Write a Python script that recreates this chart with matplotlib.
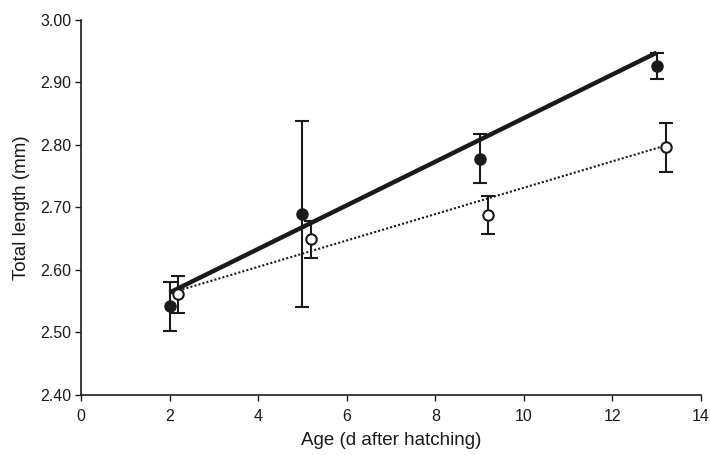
import numpy as np
import matplotlib
matplotlib.use("Agg")
import matplotlib.pyplot as plt

plt.rcParams['font.family'] = ['Liberation Sans', 'DejaVu Sans']

# Filled circles (solid regression)
age_filled = [2.0, 5.0, 9.0, 13.0]
len_filled = [2.542, 2.690, 2.778, 2.926]
err_filled = [0.039, 0.149, 0.039, 0.021]

# Open circles (dotted regression)
age_open = [2.2, 5.2, 9.2, 13.2]
len_open = [2.561, 2.649, 2.688, 2.796]
err_open = [0.030, 0.030, 0.031, 0.039]

# Regression fits: (intercept, slope)
fit_filled = (2.494, 0.0349)
fit_open = (2.5206, 0.0211)

xticks = [0, 2, 4, 6, 8, 10, 12, 14]
yticks = [2.40, 2.50, 2.60, 2.70, 2.80, 2.90, 3.00]

fig = plt.figure(figsize=(7.1, 4.55), dpi=100)
ax = fig.add_axes([0.1141, 0.1319, 0.8732, 0.8242])

xf = np.array([age_filled[0], age_filled[-1]])
ax.plot(xf, fit_filled[0] + fit_filled[1] * xf, color='#1a1a1a', lw=3.2, zorder=2,
        solid_capstyle='butt')
xo = np.array([age_open[0], age_open[-1]])
ax.plot(xo, fit_open[0] + fit_open[1] * xo, color='#1a1a1a', lw=1.5, ls=(0, (1, 1)), zorder=2)

ax.errorbar(age_filled, len_filled, yerr=err_filled, fmt='o', color='#1a1a1a',
            ms=8, mfc='#1a1a1a', mec='#1a1a1a', ecolor='#1a1a1a', elinewidth=1.5,
            capsize=5, capthick=1.5, zorder=3)
ax.errorbar(age_open, len_open, yerr=err_open, fmt='o', color='#1a1a1a',
            ms=7.5, mfc='white', mec='#1a1a1a', mew=1.5, ecolor='#1a1a1a', elinewidth=1.5,
            capsize=5, capthick=1.5, zorder=4)

ax.set_xlim(0, 14)
ax.set_ylim(2.40, 3.00)
ax.set_xticks(xticks)
ax.set_yticks(yticks)
ax.set_yticklabels([f"{v:.2f}" for v in yticks])
ax.spines['top'].set_visible(False)
ax.spines['right'].set_visible(False)
for s in ['left', 'bottom']:
    ax.spines[s].set_linewidth(1.2)
    ax.spines[s].set_color('#1a1a1a')
ax.tick_params(direction='out', length=4, width=1, colors='#1a1a1a', labelsize=11.5)
ax.tick_params(axis='x', pad=6)
ax.tick_params(axis='y', pad=3)
ax.set_xlabel('Age (d after hatching)', fontsize=13.5, color='#1a1a1a', labelpad=6)
ax.set_ylabel('Total length (mm)', fontsize=13.5, color='#1a1a1a', labelpad=7)

fig.savefig('out.png', dpi=100)
